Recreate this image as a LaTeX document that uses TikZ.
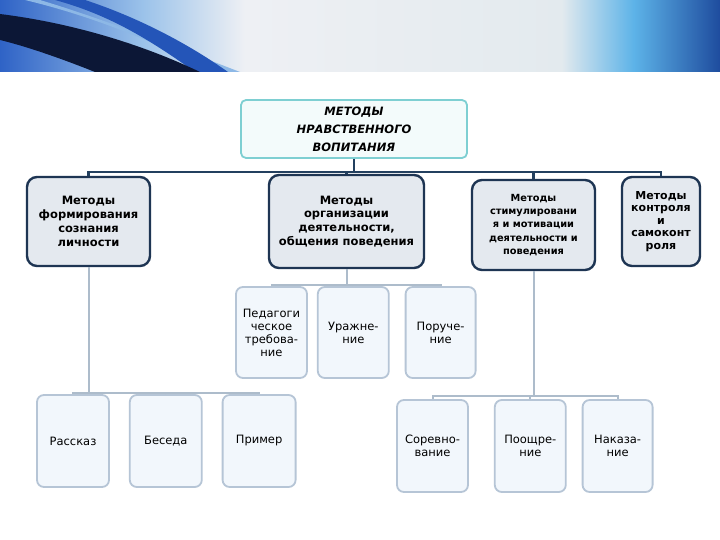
\documentclass[tikz,border=0pt]{standalone}
\usepackage{fontspec}
\setmainfont{DejaVu Sans}
\usepackage{xcolor}
\usetikzlibrary{positioning}

\definecolor{topline}{HTML}{7ECFD2}
\definecolor{topfill}{HTML}{F3FBFB}
\definecolor{mline}{HTML}{1E3553}
\definecolor{mfill}{HTML}{E4E9EF}
\definecolor{sline}{HTML}{B6C5D6}
\definecolor{sfill}{HTML}{F2F7FC}
\definecolor{busdark}{HTML}{23405F}
\definecolor{buslight}{HTML}{ADBCCB}
\definecolor{hdrA}{HTML}{2F63C6}
\definecolor{hdrB}{HTML}{9CC3EA}
\definecolor{hdrC}{HTML}{EEF0F4}
\definecolor{hdrD}{HTML}{E3EAEE}
\definecolor{hdrE}{HTML}{5DB3E8}
\definecolor{hdrF}{HTML}{1E4C9E}
\definecolor{hdrnavy}{HTML}{0C1736}
\definecolor{hdrblue}{HTML}{2455B8}
\definecolor{hdrlight}{HTML}{8DB8E6}

\pgfdeclarehorizontalshading{hdrshade}{100bp}{color(0bp)=(hdrA); color(25bp)=(hdrA);
  color(35bp)=(hdrB); color(42bp)=(hdrC); color(64bp)=(hdrD); color(69bp)=(hdrE);
  color(75bp)=(hdrF); color(100bp)=(hdrF)}

\begin{document}
\begin{tikzpicture}[
  x=1pt,y=-1pt,
  topbox/.style={rectangle,draw=topline,line width=1.8pt,rounded corners=5pt,fill=topfill,
                 align=center,minimum width=226pt,minimum height=58pt,inner sep=2pt,
                 font=\fontsize{11.5}{18}\selectfont\bfseries\itshape},
  mbox/.style={rectangle,draw=mline,line width=2.4pt,rounded corners=10pt,fill=mfill,
               align=center,inner sep=2pt,font=\fontsize{11.5}{13.8}\selectfont\bfseries},
  sbox/.style={rectangle,draw=sline,line width=1.8pt,rounded corners=7pt,fill=sfill,
               align=center,inner sep=2pt,minimum width=71pt,minimum height=91pt,
               font=\fontsize{11.5}{13}\selectfont},
  link/.style={draw=busdark,line width=2.2pt},
  sublink/.style={draw=buslight,line width=2pt}
]
\useasboundingbox (0,0) rectangle (720,540);
\fill[white] (0,0) rectangle (720,540);

% header band
\shade[shading=hdrshade] (0,0) rectangle (720,72);
\fill[hdrlight] (40,0) .. controls (100,18) and (170,45) .. (240,72) -- (215,72)
  .. controls (160,45) and (100,18) .. (25,0) -- cycle;
\fill[hdrblue] (85,0) .. controls (140,18) and (190,45) .. (228,72) -- (195,72)
  .. controls (150,40) and (110,15) .. (55,0) -- cycle;
\fill[hdrnavy] (0,14) .. controls (80,24) and (150,48) .. (200,72) -- (95,72)
  .. controls (60,58) and (25,46) .. (0,40) -- cycle;

\node[topbox] (top) at (354,129) {МЕТОДЫ\\НРАВСТВЕННОГО\\ВОПИТАНИЯ};

\node[mbox,minimum width=123pt,minimum height=89pt] (form) at (88.5,221.5)
  {Методы\\формирования\\сознания\\личности};
\node[mbox,minimum width=155pt,minimum height=93pt] (org) at (346.5,221.5)
  {Методы\\организации\\деятельности,\\общения поведения};
\node[mbox,minimum width=123pt,minimum height=90pt,
      font=\fontsize{9.8}{13.2}\selectfont\bfseries] (stim) at (533.5,225)
  {Методы\\стимулировани\\я и мотивации\\деятельности и\\поведения};
\node[mbox,minimum width=78pt,minimum height=89pt,
      font=\fontsize{11}{12.5}\selectfont\bfseries] (ctrl) at (661,221.5)
  {Методы\\контроля\\и\\самоконт\\роля};

\node[sbox] (treb) at (271.5,332.5) {Педагоги\\ческое\\требова-\\ние};
\node[sbox,right=9pt of treb] (upr) {Уражне-\\ние};
\node[sbox,right=15pt of upr,minimum width=70pt] (poruch) {Поруче-\\ние};

\node[sbox,minimum width=72pt,minimum height=92pt] (rasskaz) at (73,441) {Рассказ};
\node[sbox,minimum width=72pt,minimum height=92pt,right=19pt of rasskaz] (beseda) {Беседа};
\node[sbox,minimum width=73pt,minimum height=92pt,right=19pt of beseda] (primer) {Пример};

\node[sbox,minimum height=92pt] (sorev) at (432.5,446) {Соревно-\\вание};
\node[sbox,minimum height=92pt,right=25pt of sorev] (pooshch) {Поощре-\\ние};
\node[sbox,minimum height=92pt,minimum width=70pt,right=15pt of pooshch] (nakaz) {Наказа-\\ние};

\coordinate (topbus) at (354,172);
\coordinate (orgbus) at (345,285);
\coordinate (formbus) at (88,393);
\coordinate (stimbus) at (533,396);

\draw[link] (top.south) -- (topbus);
\draw[link] (form.north) |- (topbus) -| (ctrl.north);
\draw[link] (org.north) -- (org.north |- topbus);
\draw[link] (stim.north) -- (stim.north |- topbus);

\draw[sublink] (org.south) -- (org.south |- orgbus);
\draw[sublink] (treb.north) |- (orgbus) -| (poruch.north);
\draw[sublink] (upr.north) -- (upr.north |- orgbus);

\draw[sublink] (form.south) -- (form.south |- formbus);
\draw[sublink] (rasskaz.north) |- (formbus) -| (primer.north);
\draw[sublink] (beseda.north) -- (beseda.north |- formbus);

\draw[sublink] (stim.south) -- (stim.south |- stimbus);
\draw[sublink] (sorev.north) |- (stimbus) -| (nakaz.north);
\draw[sublink] (pooshch.north) -- (pooshch.north |- stimbus);
\end{tikzpicture}
\end{document}
